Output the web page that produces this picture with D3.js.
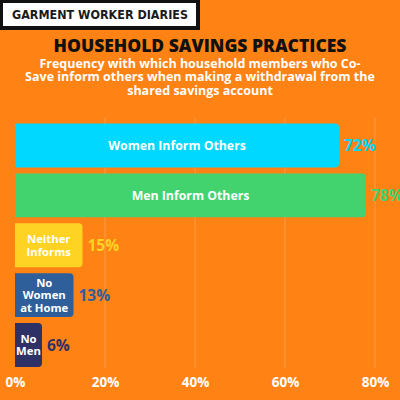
<!DOCTYPE html>
<html>
<head>
<meta charset="utf-8">
<script src="https://cdn.jsdelivr.net/npm/d3@7"></script>
<style>
  html, body { margin: 0; padding: 0; background: #FF8214; }
  svg { display: block; }
</style>
</head>
<body>
<svg id="chart"></svg>
<script>
const categories = ["Women Inform Others", "Men Inform Others", "Neither Informs", "No Women at Home", "No Men"];
const labelLines = [["Women Inform Others"], ["Men Inform Others"], ["Neither", "Informs"], ["No", "Women", "at Home"], ["No", "Men"]];
const values = [72, 78, 15, 13, 6];
const barColors = ["#00D8FF", "#42D36F", "#FFD324", "#2E5F9B", "#2E3166"];
const ticks = [0, 20, 40, 60, 80];
const subtitleLines = [
  "Frequency with which household members who Co-",
  "Save inform others when making a withdrawal from the",
  "shared savings account"
];

const width = 400, height = 400;
const font = "'Open Sans', sans-serif";

const svg = d3.select("#chart").attr("width", width).attr("height", height);

svg.append("rect").attr("width", width).attr("height", height).attr("fill", "#FF8214");

// header badge
svg.append("rect").attr("x", 0).attr("y", 0).attr("width", 200).attr("height", 30).attr("fill", "#111");
svg.append("rect").attr("x", 3).attr("y", 3).attr("width", 193).attr("height", 23).attr("fill", "#fff");
svg.append("text")
  .attr("x", 12).attr("y", 19)
  .attr("font-family", "'DejaVu Sans', sans-serif")
  .attr("font-weight", "bold")
  .attr("font-size", "13px")
  .attr("textLength", 176)
  .attr("lengthAdjust", "spacingAndGlyphs")
  .attr("fill", "#1a1a1a")
  .text("GARMENT WORKER DIARIES");

svg.append("text")
  .attr("x", 200).attr("y", 51.5)
  .attr("text-anchor", "middle")
  .attr("font-family", font)
  .attr("font-weight", "800")
  .attr("font-size", "17.5px")
  .attr("fill", "#111")
  .text("HOUSEHOLD SAVINGS PRACTICES");

svg.append("g").selectAll("text")
  .data(subtitleLines)
  .enter().append("text")
  .attr("x", 200)
  .attr("y", (d, i) => 67.5 + i * 13.5)
  .attr("text-anchor", "middle")
  .attr("font-family", font)
  .attr("font-weight", "bold")
  .attr("font-size", "12.5px")
  .attr("fill", "#fff")
  .text(d => d);

const x = d3.scaleLinear().domain([0, 80]).range([15, 375]);
const y = d3.scaleBand().domain(categories).range([120.5, 370]).paddingInner(0.12).paddingOuter(0.06);

// gridlines
svg.append("g").selectAll("line")
  .data(ticks.slice(1))
  .enter().append("line")
  .attr("x1", d => x(d)).attr("x2", d => x(d))
  .attr("y1", 118).attr("y2", 368)
  .attr("stroke", "#FF9A45")
  .attr("stroke-width", 1);

const bars = svg.append("g").selectAll("g")
  .data(categories)
  .enter().append("g");

bars.append("path")
  .attr("d", (d, i) => {
    const x0 = x(0), x1 = x(values[i]), y0 = y(d), h = y.bandwidth(), r = 4;
    return `M${x0},${y0} H${x1 - r} Q${x1},${y0} ${x1},${y0 + r} V${y0 + h - r} Q${x1},${y0 + h} ${x1 - r},${y0 + h} H${x0} Z`;
  })
  .attr("fill", (d, i) => barColors[i]);

bars.each(function (d, i) {
  const g = d3.select(this);
  const lines = labelLines[i];
  const cx = (x(0) + x(values[i])) / 2;
  const cy = y(d) + y.bandwidth() / 2;
  const lh = 12.5;
  lines.forEach((ln, j) => {
    g.append("text")
      .attr("x", cx)
      .attr("y", cy + (j - (lines.length - 1) / 2) * lh)
      .attr("dy", "0.36em")
      .attr("text-anchor", "middle")
      .attr("font-family", font)
      .attr("font-weight", "bold")
      .attr("font-size", lines.length > 1 ? "11.3px" : "12.3px")
      .attr("fill", "#fff")
      .text(ln);
  });
  g.append("text")
    .attr("x", x(values[i]) + 5)
    .attr("y", cy)
    .attr("dy", "0.36em")
    .attr("font-family", font)
    .attr("font-weight", "bold")
    .attr("font-size", "15.5px")
    .attr("fill", barColors[i])
    .text(values[i] + "%");
});

// x axis labels
const axis = svg.append("g")
  .attr("transform", "translate(0,377)")
  .call(d3.axisBottom(x).tickValues(ticks).tickFormat(d => d + "%").tickSize(0).tickPadding(0));
axis.select(".domain").remove();
axis.selectAll("text")
  .attr("font-family", font)
  .attr("font-weight", "bold")
  .attr("font-size", "13.5px")
  .attr("fill", "#fff");
</script>
</body>
</html>
